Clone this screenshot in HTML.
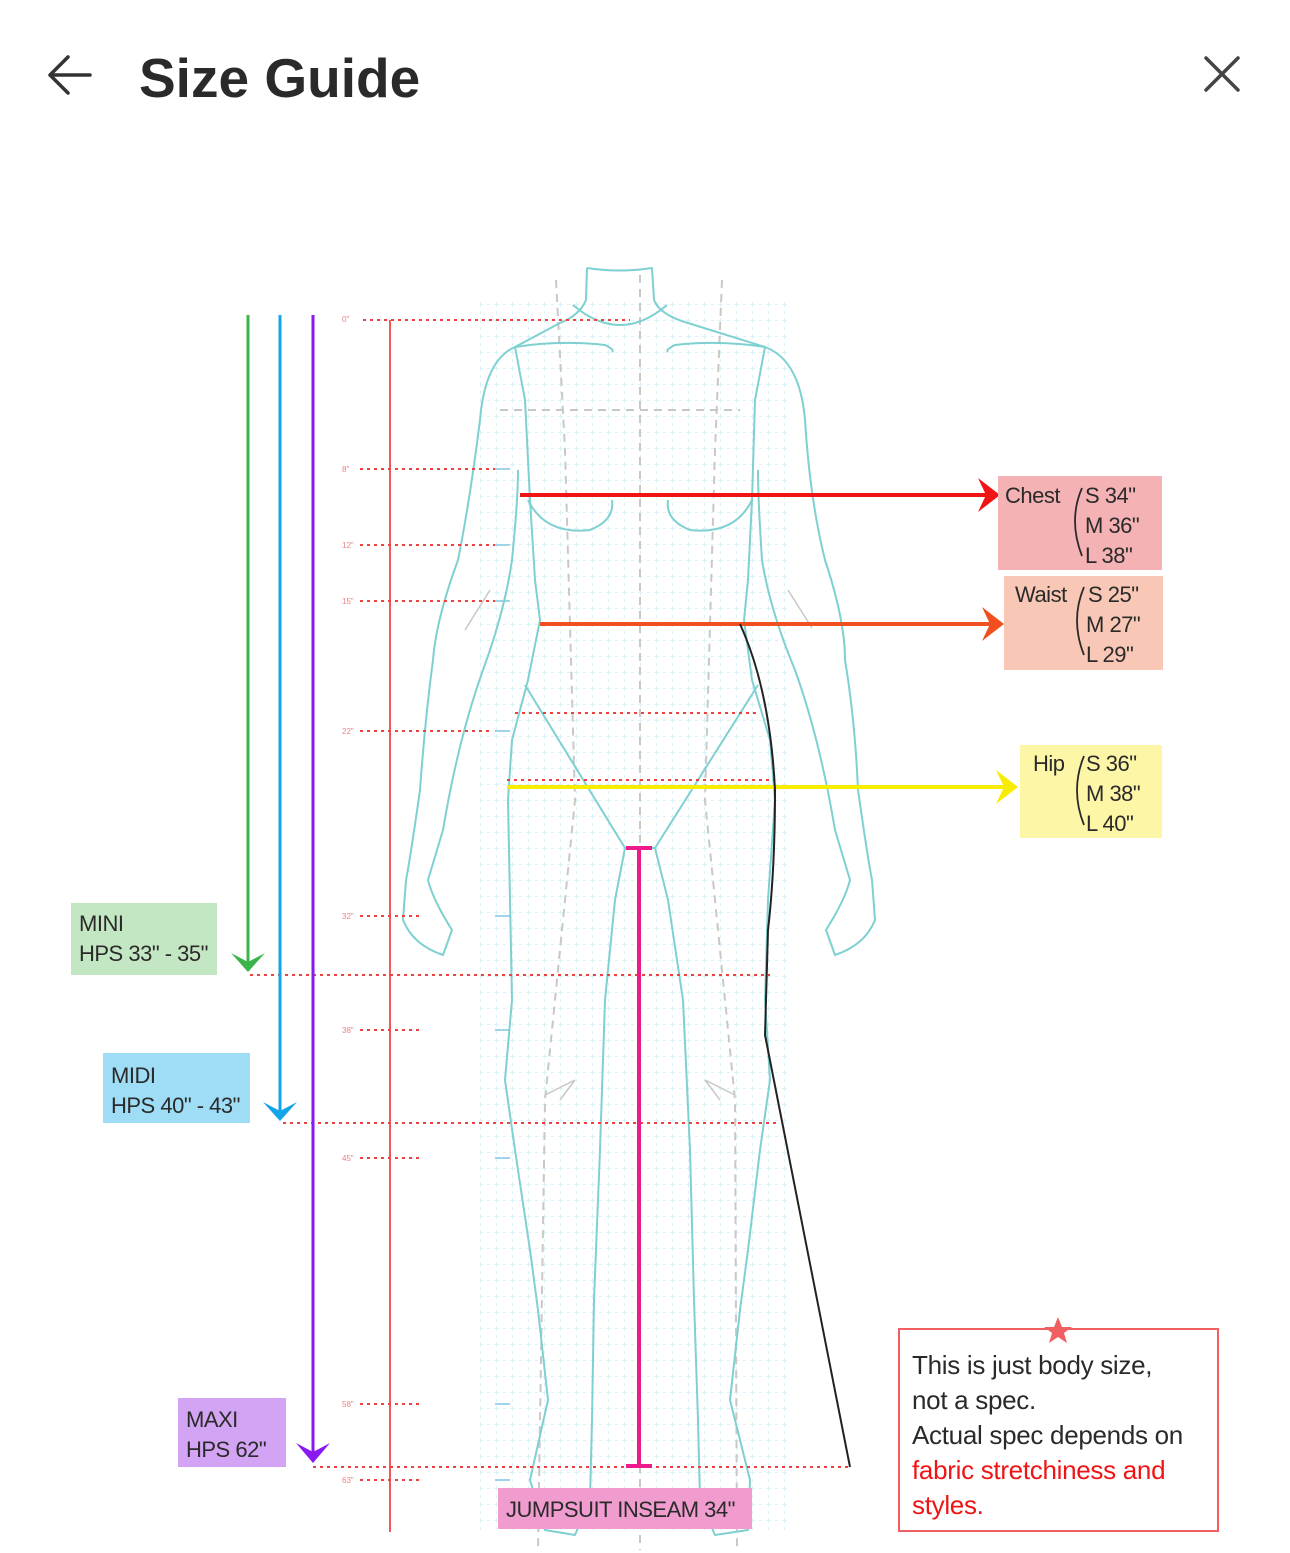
<!DOCTYPE html>
<html><head><meta charset="utf-8"><style>
html,body{margin:0;padding:0;background:#fff;width:1290px;height:1553px;overflow:hidden}
svg{display:block}
text{font-family:"Liberation Sans",sans-serif}
</style></head><body>
<svg width="1290" height="1553" viewBox="0 0 1290 1553" xmlns="http://www.w3.org/2000/svg">
<defs>
<pattern id="g" width="16" height="16" patternUnits="userSpaceOnUse">
<path d="M0 0.5H16M0.5 0V16" stroke="#dcf0f8" stroke-width="1" stroke-dasharray="3 4" fill="none"/>
</pattern>
</defs>
<!-- header -->
<path d="M50 75H90M50 75L68 57M50 75L68 93" stroke="#333" stroke-width="3.5" fill="none" stroke-linecap="round"/>
<text x="139" y="97" font-size="55" font-weight="bold" fill="#2a2a2a">Size Guide</text>
<path d="M1206 58L1238 90M1238 58L1206 90" stroke="#444" stroke-width="3.5" stroke-linecap="round"/>

<!-- grid -->
<rect x="480" y="300" width="310" height="1230" fill="url(#g)"/>
<g stroke="#c8c8c8" stroke-width="2" stroke-dasharray="8 6" fill="none">
<path d="M640 275V1550"/>
<path d="M556 280L565 450 L575 800 L545 1100 L538 1550"/>
<path d="M722 280L715 450 L705 800 L735 1100 L737 1550"/>
<path d="M500 410H740"/>
</g>
<g stroke="#9fd4ea" stroke-width="2">
<path d="M495 469H510M495 545H510M495 601H510M495 731H510M495 916H510M495 1030H510M495 1158H510M495 1404H510M495 1480H510"/>
</g>

<!-- body outline -->
<g stroke="#7fd0d0" stroke-width="2" fill="none" stroke-linejoin="round">
<path d="M587 268Q620 273 652 268L654 300Q660 315 688 323L765 347Q800 360 805 420Q810 500 825 560Q845 620 845 660Q855 720 858 790Q868 860 872 880L875 920Q865 945 835 955L826 930Q845 900 850 880L835 830Q820 740 795 670Q770 610 762 560Q758 500 758 470"/>
<path d="M587 268L586 300Q580 315 560 323L515 347Q485 360 480 420Q470 500 458 560Q436 620 433 660Q425 720 420 790Q410 860 406 880L403 920Q413 945 443 955L452 930Q433 900 428 880L443 830Q458 740 483 670Q505 610 512 560Q518 500 518 470"/>
<path d="M573 305Q620 345 667 305"/>
<path d="M515 347Q560 340 605 345Q615 350 612 352M765 347Q720 340 675 345Q665 350 668 352"/>
<path d="M515 347L525 400L530 500L535 580L540 620L528 680L512 740L508 800L510 900L512 1000L505 1080L515 1150L530 1250L538 1310L548 1400L530 1480L545 1530L575 1535L590 1500L592 1420L594 1300L600 1150L605 1000L615 900L625 848"/>
<path d="M765 347L755 400L752 500L748 580L744 620L752 680L770 740L775 800L768 900L765 1000L770 1080L760 1150L748 1250L740 1310L730 1400L750 1480L748 1530L715 1535L700 1500L698 1420L694 1300L690 1150L683 1000L668 900L655 848"/>
<path d="M625 848H655"/>
<path d="M525 685L625 848M758 685L655 848"/>
<path d="M528 500Q545 535 590 530Q615 520 612 500M752 500Q735 535 690 530Q665 520 668 500"/>
</g>
<g stroke="#c8c8c8" stroke-width="1.5" fill="none">
<path d="M490 590L465 630M788 590L812 628M545 1095L575 1080L560 1100M735 1095L705 1080L720 1100"/>
</g>

<!-- red vertical ruler -->
<path d="M390 320V1532" stroke="#f05a5a" stroke-width="2"/>
<g stroke="#f04040" stroke-width="2" stroke-dasharray="3 4" fill="none">
<path d="M363 320H630M360 469H495M360 545H495M360 601H495M360 731H490M360 916H420M250 975H770M360 1030H420M283 1123H780M360 1158H420M360 1404H420M313 1467H850M360 1480H420M515 713H760M507 780H775"/>
</g>
<g font-size="8" fill="#f08080">
<text x="342" y="322">0"</text><text x="342" y="472">8"</text><text x="342" y="548">12"</text><text x="342" y="604">15"</text><text x="342" y="734">22"</text><text x="342" y="919">32"</text><text x="342" y="1033">38"</text><text x="342" y="1161">45"</text><text x="342" y="1407">58"</text><text x="342" y="1483">63"</text>
</g>

<!-- left arrows -->
<path d="M248 315V965" stroke="#3cb44a" stroke-width="3"/>
<path d="M231 953L248 972L265 953L248 962Z" fill="#3cb44a"/>
<path d="M280 315V1115" stroke="#14a5e8" stroke-width="3"/>
<path d="M263 1102L280 1121L297 1102L280 1111Z" fill="#14a5e8"/>
<path d="M313 315V1455" stroke="#8a18f0" stroke-width="3"/>
<path d="M296 1443L313 1463L330 1443L313 1452Z" fill="#8a18f0"/>

<!-- measure lines -->
<path d="M520 495H990" stroke="#f01414" stroke-width="4"/>
<path d="M978 478L1000 495L978 512L986 495Z" fill="#f01414"/>
<path d="M540 624H995" stroke="#f05020" stroke-width="4"/>
<path d="M982 607L1004 624L982 641L990 624Z" fill="#f05020"/>
<path d="M507 787H1010" stroke="#f8ec00" stroke-width="4"/>
<path d="M996 770L1018 787L996 804L1004 787Z" fill="#f8ec00"/>
<path d="M740 624Q770 690 775 790Q775 870 768 930L765 1035L850 1467" stroke="#222" stroke-width="2" fill="none"/>
<path d="M639 848V1466M626 848H652M626 1466H652" stroke="#ec1a8a" stroke-width="4"/>

<!-- boxes -->
<rect x="998" y="476" width="164" height="94" fill="#f5b2b5"/>
<rect x="1004" y="576" width="159" height="94" fill="#f8c7b6"/>
<rect x="1020" y="745" width="142" height="93" fill="#fdf6a6"/>
<rect x="71" y="903" width="146" height="72" fill="#c4e7c3"/>
<rect x="103" y="1053" width="147" height="70" fill="#9fdcf6"/>
<rect x="178" y="1398" width="108" height="69" fill="#d3a4f3"/>
<rect x="498" y="1488" width="254" height="41" fill="#f19ccf"/>
<g font-size="22" fill="#2a2a2a" style="letter-spacing:-0.5px">
<text x="1005" y="503">Chest</text><text x="1085" y="503">S 34"</text><text x="1085" y="533">M 36"</text><text x="1085" y="563">L 38"</text>
<text x="1015" y="602">Waist</text><text x="1088" y="602">S 25"</text><text x="1086" y="632">M 27"</text><text x="1086" y="662">L 29"</text>
<text x="1033" y="771">Hip</text><text x="1086" y="771">S 36"</text><text x="1086" y="801">M 38"</text><text x="1086" y="831">L 40"</text>
<text x="79" y="931">MINI</text><text x="79" y="961">HPS 33" - 35"</text>
<text x="111" y="1083">MIDI</text><text x="111" y="1113">HPS 40" - 43"</text>
<text x="186" y="1427">MAXI</text><text x="186" y="1457">HPS 62"</text>
<text x="506" y="1517">JUMPSUIT INSEAM 34"</text>
</g>
<g stroke="#2a2a2a" stroke-width="1.8" fill="none">
<path d="M1082 488Q1068 520 1082 556M1084 587Q1070 620 1084 655M1084 756Q1070 790 1084 825"/>
</g>

<!-- note -->
<rect x="899" y="1329" width="319" height="202" fill="#fff" stroke="#f06060" stroke-width="2"/>
<path d="M1058 1317L1062 1327L1072 1327L1064 1333L1067 1343L1058 1337L1049 1343L1052 1333L1044 1327L1054 1327Z" fill="#f06060"/>
<g font-size="26" style="letter-spacing:-0.3px">
<text x="912" y="1374" fill="#2a2a2a">This is just body size,</text>
<text x="912" y="1409" fill="#2a2a2a">not a spec.</text>
<text x="912" y="1444" fill="#2a2a2a">Actual spec depends on</text>
<text x="912" y="1479" fill="#f01414">fabric stretchiness and</text>
<text x="912" y="1514" fill="#f01414">styles.</text>
</g>
</svg>
</body></html>
